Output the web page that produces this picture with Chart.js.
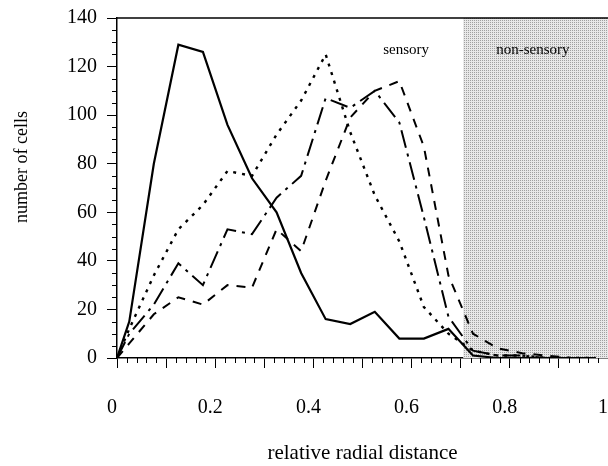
<!DOCTYPE html>
<html>
<head>
<meta charset="utf-8">
<script src="https://cdn.jsdelivr.net/npm/chart.js@4/dist/chart.umd.min.js"></script>
<style>
  html, body { margin: 0; padding: 0; background: #fff; overflow: hidden; }
  #wrap { width: 641px; height: 466px; }
</style>
</head>
<body>
<div id="wrap"><canvas id="c" width="641" height="466"></canvas></div>
<script>
// ---- data ----
const radialDistance = [0, 0.025, 0.075, 0.125, 0.175, 0.225, 0.275, 0.325, 0.375, 0.425, 0.475, 0.525, 0.575, 0.625, 0.675, 0.725, 0.775, 0.825, 0.875, 0.925, 0.975];
const seriesSolid   = [0, 15, 80, 129, 126, 96, 74, 60, 35, 16, 14, 19, 8, 8, 12, 1, 0, 0, 0, 0, 0];
const seriesDotted  = [0, 12, 34, 53, 63, 77, 75, 92, 106, 125, 93, 67, 48, 21, 10, 3, 1, 1, 0, 0, 0];
const seriesDashDot = [0, 10, 22, 39, 30, 53, 51, 66, 75, 107, 103, 110, 97, 58, 17, 3, 1, 1, 0, 0, 0];
const seriesDashed  = [0, 6, 18, 25, 22, 30, 29, 53, 44, 73, 99, 110, 114, 87, 34, 10, 4, 2, 1, 0, 0];
const nonSensoryStart = 0.705;
const regionLabels = [
  { text: 'sensory', x: 0.589, y: 127 },
  { text: 'non-sensory', x: 0.847, y: 127 }
];
const xAxisTitle = 'relative radial distance';
const yAxisTitle = 'number of cells';

const SERIF = "'Liberation Serif', 'Times New Roman', serif";

function pts(ys) { return radialDistance.map((x, i) => ({ x: x, y: ys[i] })); }

function lineDs(ys, dash, width) {
  return {
    data: pts(ys),
    borderColor: '#000',
    borderWidth: width,
    borderDash: dash,
    pointRadius: 0,
    tension: 0,
    fill: false,
    borderCapStyle: 'butt',
    borderJoinStyle: 'miter'
  };
}

// stipple pattern for the non-sensory region
const pc = document.createElement('canvas');
pc.width = 2; pc.height = 2;
const pg = pc.getContext('2d');
pg.fillStyle = '#e8e8e8'; pg.fillRect(0, 0, 2, 2);
pg.fillStyle = '#a0a0a0'; pg.fillRect(0, 0, 1, 1);

const shadePlugin = {
  id: 'shade',
  beforeDatasetsDraw(chart) {
    const { ctx, chartArea, scales } = chart;
    const x0 = scales.x.getPixelForValue(nonSensoryStart);
    const x1 = scales.x.getPixelForValue(1);
    ctx.save();
    ctx.fillStyle = ctx.createPattern(pc, 'repeat');
    ctx.fillRect(x0, chartArea.top, x1 - x0, chartArea.bottom - chartArea.top);
    // top frame line
    ctx.strokeStyle = '#000';
    ctx.lineWidth = 1.5;
    ctx.beginPath();
    ctx.moveTo(chartArea.left, chartArea.top);
    ctx.lineTo(chartArea.right, chartArea.top);
    ctx.stroke();
    ctx.font = '15px ' + SERIF;
    ctx.fillStyle = '#000';
    ctx.textAlign = 'center';
    ctx.textBaseline = 'middle';
    regionLabels.forEach(l => {
      ctx.fillText(l.text, scales.x.getPixelForValue(l.x), scales.y.getPixelForValue(l.y));
    });
    ctx.restore();
  }
};

const yTitlePlugin = {
  id: 'yTitle',
  afterDraw(chart) {
    const { ctx, chartArea } = chart;
    ctx.save();
    ctx.translate(22, (chartArea.top + chartArea.bottom) / 2 - 21);
    ctx.rotate(-Math.PI / 2);
    ctx.font = '18px ' + SERIF;
    ctx.fillStyle = '#000';
    ctx.textAlign = 'center';
    ctx.textBaseline = 'middle';
    ctx.fillText(yAxisTitle, 0, 0);
    ctx.restore();
  }
};

const minorTicksPlugin = {
  id: 'minorTicks',
  afterDraw(chart) {
    const { ctx, scales } = chart;
    const xs = scales.x, ys = scales.y;
    ctx.save();
    ctx.strokeStyle = '#000';
    ctx.lineWidth = 1;
    ctx.beginPath();
    for (let k = 0; k <= 50; k++) {
      if (k % 5 === 0) continue;
      const px = Math.round(xs.getPixelForValue(k / 50)) + 0.5;
      ctx.moveTo(px, xs.top);
      ctx.lineTo(px, xs.top + 5);
    }
    for (let v = 0; v <= 140; v += 5) {
      if (v % 20 === 0) continue;
      const py = Math.round(ys.getPixelForValue(v)) + 0.5;
      ctx.moveTo(ys.right, py);
      ctx.lineTo(ys.right - 5, py);
    }
    ctx.stroke();
    ctx.restore();
  }
};

new Chart(document.getElementById('c'), {
  type: 'line',
  data: {
    datasets: [
      lineDs(seriesSolid, [], 2.2),
      lineDs(seriesDotted, [3, 6], 2.4),
      lineDs(seriesDashDot, [18, 6, 3, 6], 2),
      lineDs(seriesDashed, [9, 8], 2)
    ]
  },
  options: {
    responsive: false,
    devicePixelRatio: 1,
    animation: false,
    events: [],
    layout: { padding: { top: 17, right: 10, left: 0, bottom: 0 } },
    plugins: { legend: { display: false }, tooltip: { enabled: false } },
    scales: {
      x: {
        type: 'linear',
        position: 'bottom',
        min: 0, max: 1,
        ticks: {
          stepSize: 0.1,
          autoSkip: false,
          maxRotation: 0,
          padding: 28,
          labelOffset: -5,
          color: '#000',
          font: { family: SERIF, size: 20 },
          callback: (v) => {
            const t = Math.round(v * 10);
            return t % 2 === 0 ? String(t / 10) : '';
          }
        },
        grid: { drawOnChartArea: false, drawTicks: true, tickLength: 10, color: '#000', tickWidth: 1 },
        border: { display: true, color: '#000', width: 1.5 },
        title: { display: true, text: xAxisTitle, color: '#000', font: { family: SERIF, size: 21 }, padding: { top: 0, bottom: 0 } },
        afterFit: (s) => { s.height = 108; }
      },
      y: {
        type: 'linear',
        min: 0, max: 140,
        ticks: {
          stepSize: 20,
          padding: 10,
          color: '#000',
          font: { family: SERIF, size: 20, lineHeight: 0.8 }
        },
        grid: { drawOnChartArea: false, drawTicks: true, tickLength: 10, color: '#000', tickWidth: 1 },
        border: { display: true, color: '#000', width: 1.5 },
        title: { display: false },
        afterFit: (s) => { s.width = 117; }
      }
    }
  },
  plugins: [shadePlugin, minorTicksPlugin, yTitlePlugin]
});
</script>
</body>
</html>
